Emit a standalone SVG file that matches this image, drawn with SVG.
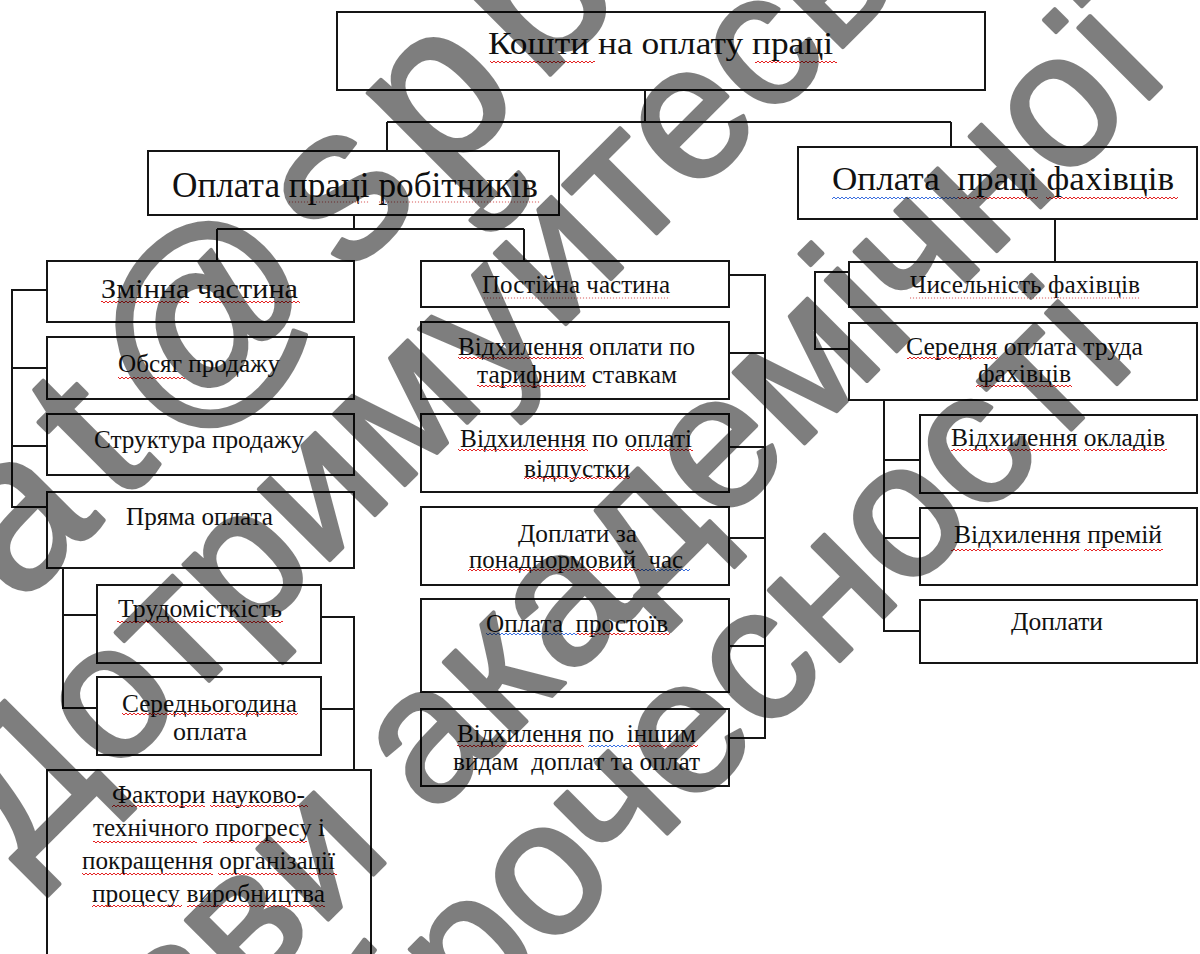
<svg xmlns="http://www.w3.org/2000/svg" width="1200" height="954" viewBox="0 0 1200 954">
<defs>
<style>
.box{fill:#fff;stroke:#151515;stroke-width:2}
.t{font-family:"Liberation Serif","Times New Roman",serif;fill:#111;text-anchor:middle;font-size:25px}
.c{fill:none;stroke:#151515;stroke-width:2}
.wr{fill:url(#wavR)}
.wb{fill:url(#wavB)}
.wd{fill:url(#dotR)}
.wm{font-family:"Liberation Sans",Arial,sans-serif;font-size:190px;fill:#000;stroke:#000;stroke-width:4;stroke-linejoin:round}
</style>
<pattern id="wavR" width="4" height="4" patternUnits="userSpaceOnUse"><path d="M0 3 L2 1 L4 3" fill="none" stroke="#e52222" stroke-width="1"/></pattern>
<pattern id="wavB" width="4" height="4" patternUnits="userSpaceOnUse"><path d="M0 3 L2 1 L4 3" fill="none" stroke="#3a6fe0" stroke-width="1"/></pattern>
<pattern id="dotR" width="3" height="4" patternUnits="userSpaceOnUse"><circle cx="1.5" cy="2" r="0.7" fill="#e07a7a"/></pattern>
</defs>
<rect width="1200" height="954" fill="#fff"/>

<g id="connectors">
<path class="c" d="M645 90 V122 M387 122 H951 M387 122 V151 M951 122 V147"/>
<path class="c" d="M354 215 V229 M217 229 H524 M217 229 V261 M524 229 V261"/>
<path class="c" d="M47 290 H12 V507 H47 M12 368 H47 M12 446 H47"/>
<path class="c" d="M63 568 V708 H97 M63 615 H97"/>
<path class="c" d="M321 617 H354 V770 M321 709 H354"/>
<path class="c" d="M729 275 H765 V738 H729 M729 353 H765 M729 447 H765 M729 538 H765 M729 646 H765"/>
<path class="c" d="M1055 219 V262"/>
<path class="c" d="M849 272 H815 V349 H849"/>
<path class="c" d="M884 400 V631 H920 M884 460 H920 M884 538 H920"/>
</g>

<g id="n-koshty">
<rect class="box" x="337" y="12" width="648" height="78"/>
<text class="t" x="660.5" y="54" style="font-size:32px" textLength="345" lengthAdjust="spacingAndGlyphs">Кошти на оплату праці</text>
<rect class="wr" x="490" y="60" width="105" height="4"/><rect class="wr" x="755" y="60" width="82" height="4"/>
</g>

<g id="n-robitnyky">
<rect class="box" x="148" y="151" width="411" height="64"/>
<text class="t" x="355" y="197" style="font-size:35px" textLength="366" lengthAdjust="spacingAndGlyphs">Оплата праці робітників</text>
<rect class="wd" x="289" y="200" width="80" height="4"/><rect class="wd" x="379" y="200" width="161" height="4"/>
</g>

<g id="n-fakhivtsi">
<rect class="box" x="798" y="147" width="399" height="72"/>
<text class="t" x="1003" y="190" style="font-size:33px" xml:space="preserve" textLength="342" lengthAdjust="spacingAndGlyphs">Оплата  праці фахівців</text>
<rect class="wb" x="832" y="196" width="126" height="4"/><rect class="wr" x="958" y="196" width="80" height="4"/><rect class="wr" x="1046" y="196" width="132" height="4"/>
</g>

<g id="n-zminna">
<rect class="box" x="47" y="261" width="307" height="61"/>
<text class="t" x="199.5" y="298" style="font-size:27px" textLength="197" lengthAdjust="spacingAndGlyphs">Змінна частина</text>
<rect class="wr" x="101" y="300" width="88" height="4"/><rect class="wr" x="199" y="300" width="101" height="4"/>
</g>

<g id="n-obsyag">
<rect class="box" x="47" y="337" width="307" height="62"/>
<text class="t" x="199" y="372" textLength="162" lengthAdjust="spacingAndGlyphs">Обсяг продажу</text>
<rect class="wr" x="118" y="376" width="67" height="4"/>
</g>

<g id="n-struktura">
<rect class="box" x="47" y="414" width="307" height="61"/>
<text class="t" x="199" y="448" textLength="210" lengthAdjust="spacingAndGlyphs">Структура продажу</text>
</g>

<g id="n-pryama">
<rect class="box" x="47" y="492" width="307" height="76"/>
<text class="t" x="199.5" y="525" textLength="147" lengthAdjust="spacingAndGlyphs">Пряма оплата</text>
</g>

<g id="n-trudomistkist">
<rect class="box" x="97" y="585" width="224" height="78"/>
<text class="t" x="200" y="617" textLength="164" lengthAdjust="spacingAndGlyphs">Трудомісткість</text>
<rect class="wr" x="117" y="620" width="166" height="4"/>
</g>

<g id="n-serednogodynna">
<rect class="box" x="97" y="677" width="224" height="78"/>
<text class="t" x="209.5" y="712" textLength="175" lengthAdjust="spacingAndGlyphs">Середньогодина</text>
<text class="t" x="210" y="740" textLength="74" lengthAdjust="spacingAndGlyphs">оплата</text>
<rect class="wr" x="122" y="712" width="176" height="4"/>
</g>

<g id="n-faktory">
<rect class="box" x="47" y="770" width="324" height="192"/>
<text class="t" x="208.5" y="803" textLength="193" lengthAdjust="spacingAndGlyphs">Фактори науково-</text>
<text class="t" x="209" y="836" textLength="232" lengthAdjust="spacingAndGlyphs">технічного прогресу і</text>
<text class="t" x="208.5" y="869" textLength="253" lengthAdjust="spacingAndGlyphs">покращення організації</text>
<text class="t" x="208.5" y="902" textLength="233" lengthAdjust="spacingAndGlyphs">процесу виробництва</text>
<rect class="wr" x="112" y="804" width="93" height="4"/><rect class="wr" x="210" y="804" width="98" height="4"/>
<rect class="wr" x="93" y="840" width="104" height="4"/><rect class="wr" x="203" y="840" width="104" height="4"/>
<rect class="wr" x="82" y="872" width="131" height="4"/><rect class="wr" x="218" y="872" width="119" height="4"/>
<rect class="wr" x="92" y="904" width="90" height="4"/><rect class="wr" x="187" y="904" width="138" height="4"/>
</g>

<g id="n-postiyna">
<rect class="box" x="421" y="261" width="308" height="46"/>
<text class="t" x="576" y="293" textLength="188" lengthAdjust="spacingAndGlyphs">Постійна частина</text>
<rect class="wd" x="482" y="296" width="188" height="4"/>
</g>

<g id="n-vidh-taryf">
<rect class="box" x="421" y="322" width="308" height="77"/>
<text class="t" x="576.5" y="355" textLength="237" lengthAdjust="spacingAndGlyphs">Відхилення оплати по</text>
<text class="t" x="577" y="383" textLength="200" lengthAdjust="spacingAndGlyphs">тарифним ставкам</text>
<rect class="wr" x="458" y="356" width="126" height="4"/><rect class="wr" x="477" y="384" width="109" height="4"/>
</g>

<g id="n-vidh-vidpustka">
<rect class="box" x="421" y="414" width="308" height="78"/>
<text class="t" x="576" y="447" textLength="232" lengthAdjust="spacingAndGlyphs">Відхилення по оплаті</text>
<text class="t" x="577" y="477" textLength="106" lengthAdjust="spacingAndGlyphs">відпустки</text>
<rect class="wr" x="458" y="448" width="130" height="4"/><rect class="wr" x="626" y="448" width="67" height="4"/><rect class="wr" x="524" y="476" width="106" height="4"/>
</g>

<g id="n-doplaty-za">
<rect class="box" x="421" y="507" width="308" height="78"/>
<text class="t" x="577.5" y="542" textLength="119" lengthAdjust="spacingAndGlyphs">Доплати за</text>
<text class="t" x="576" y="568" xml:space="preserve" textLength="214" lengthAdjust="spacingAndGlyphs">понаднормовий  час</text>
<rect class="wr" x="468" y="568" width="172" height="4"/><rect class="wb" x="640" y="568" width="50" height="4"/>
</g>

<g id="n-prostoi">
<rect class="box" x="421" y="599" width="308" height="93"/>
<text class="t" x="577" y="632" xml:space="preserve" textLength="182" lengthAdjust="spacingAndGlyphs">Оплата  простоїв</text>
<rect class="wb" x="486" y="632" width="91" height="4"/><rect class="wr" x="577" y="632" width="93" height="4"/>
</g>

<g id="n-inshi">
<rect class="box" x="421" y="709" width="308" height="77"/>
<text class="t" x="576.5" y="742" xml:space="preserve" textLength="239" lengthAdjust="spacingAndGlyphs">Відхилення по  іншим</text>
<text class="t" x="576.5" y="770" xml:space="preserve" textLength="247" lengthAdjust="spacingAndGlyphs">видам  доплат та оплат</text>
<rect class="wr" x="457" y="744" width="127" height="4"/><rect class="wb" x="588" y="744" width="40" height="4"/><rect class="wr" x="628" y="744" width="70" height="4"/>
</g>

<g id="n-chyselnist">
<rect class="box" x="849" y="262" width="348" height="45"/>
<text class="t" x="1025" y="293" textLength="230" lengthAdjust="spacingAndGlyphs">Чисельність фахівців</text>
<rect class="wd" x="910" y="296" width="230" height="4"/>
</g>

<g id="n-serednya">
<rect class="box" x="849" y="323" width="348" height="77"/>
<text class="t" x="1024.5" y="355" textLength="237" lengthAdjust="spacingAndGlyphs">Середня оплата труда</text>
<text class="t" x="1024.5" y="382" textLength="93" lengthAdjust="spacingAndGlyphs">фахівців</text>
<rect class="wr" x="907" y="356" width="91" height="4"/><rect class="wr" x="976" y="384" width="96" height="4"/>
</g>

<g id="n-oklady">
<rect class="box" x="920" y="415" width="277" height="78"/>
<text class="t" x="1058" y="446" textLength="214" lengthAdjust="spacingAndGlyphs">Відхилення окладів</text>
<rect class="wr" x="951" y="448" width="129" height="4"/><rect class="wr" x="1084" y="448" width="83" height="4"/>
</g>

<g id="n-premii">
<rect class="box" x="920" y="508" width="277" height="77"/>
<text class="t" x="1058" y="543" textLength="208" lengthAdjust="spacingAndGlyphs">Відхилення премій</text>
<rect class="wr" x="951" y="548" width="128" height="4"/><rect class="wr" x="1084" y="548" width="79" height="4"/>
</g>

<g id="n-doplaty">
<rect class="box" x="920" y="600" width="277" height="63"/>
<text class="t" x="1057" y="630" textLength="92" lengthAdjust="spacingAndGlyphs">Доплати</text>
</g>

<g id="watermark" opacity="0.5">
<text class="wm" transform="translate(-83,708) rotate(-45)" style="font-size:220px;letter-spacing:20px">nat@spbu</text>
<text class="wm" transform="translate(20,870) rotate(-45)">Дотримуйтесь</text>
<text class="wm" transform="translate(394,854) rotate(-45)" text-anchor="end">зви</text>
<text class="wm" transform="translate(431,817) rotate(-45)">академічної</text>
<text class="wm" transform="translate(242,1259) rotate(-45)">доброчесності</text>
</g>
</svg>
